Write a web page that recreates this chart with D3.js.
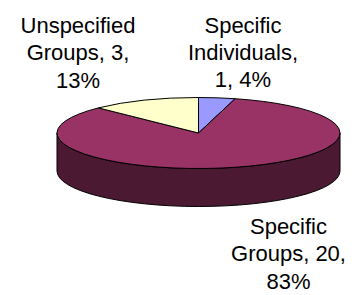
<!DOCTYPE html>
<html>
<head>
<meta charset="utf-8">
<script src="https://cdn.jsdelivr.net/npm/d3@7"></script>
<style>
  body { margin: 0; background: #fff; }
  svg { display: block; }
</style>
</head>
<body>
<svg id="chart" width="355" height="295"></svg>
<script>
// data
const categories = ["Specific Individuals", "Specific Groups", "Unspecified Groups"];
const counts = [1, 20, 3];
const colors = ["#9999FF", "#993366", "#FFFFCC"];

// label lines as they are wrapped in the picture
const labelLines = [
  ["Specific", "Individuals,", "1, 4%"],
  ["Specific", "Groups, 20,", "83%"],
  ["Unspecified", "Groups, 3,", "13%"]
];

const dims = { w: 355, h: 295, cx: 198.5, cy: 133, rx: 141.5, ry: 35.5, depth: 38 };
// where each label block is centred (x) and its first baseline (y)
const labelPos = [[243, 32.5], [288.5, 234], [78, 33]];
const lineGap = 27.3;

const svg = d3.select("#chart");

const pie = d3.pie().sort(null).value(d => d)
  .startAngle(0).endAngle(2 * Math.PI);
const arcs = pie(counts);

// point on the flattened (top) ellipse, 0 = 12 o'clock, clockwise
function pt(a, dy = 0) {
  return [dims.cx + dims.rx * Math.sin(a), dims.cy - dims.ry * Math.cos(a) + dy];
}

function topPath(a0, a1) {
  const p0 = pt(a0), p1 = pt(a1);
  const large = (a1 - a0) > Math.PI ? 1 : 0;
  return `M${dims.cx},${dims.cy}L${p0}A${dims.rx},${dims.ry} 0 ${large} 1 ${p1}Z`;
}

function sidePath(a0, a1) {
  const p0 = pt(a0), p1 = pt(a1);
  const q0 = pt(a0, dims.depth), q1 = pt(a1, dims.depth);
  const large = (a1 - a0) > Math.PI ? 1 : 0;
  return `M${p0}A${dims.rx},${dims.ry} 0 ${large} 1 ${p1}L${q1}A${dims.rx},${dims.ry} 0 ${large} 0 ${q0}Z`;
}

// side walls: only the front half (90deg to 270deg) can be seen
const sides = [];
arcs.forEach((d, i) => {
  const a0 = Math.max(d.startAngle, Math.PI / 2);
  const a1 = Math.min(d.endAngle, 3 * Math.PI / 2);
  if (a1 > a0) sides.push({ a0, a1, i });
});

svg.append("g").selectAll("path")
  .data(sides)
  .join("path")
  .attr("d", d => sidePath(d.a0, d.a1))
  .attr("fill", d => d3.color(colors[d.i]).darker(2))
  .attr("stroke", "#000")
  .attr("stroke-width", 1)
  .attr("stroke-linejoin", "round");

svg.append("g").selectAll("path")
  .data(arcs)
  .join("path")
  .attr("d", d => topPath(d.startAngle, d.endAngle))
  .attr("fill", (d, i) => colors[i])
  .attr("stroke", "#000")
  .attr("stroke-width", 1)
  .attr("stroke-linejoin", "round");

const labels = svg.append("g")
  .attr("font-family", "'Liberation Sans', Arial, sans-serif")
  .attr("font-size", "22px")
  .attr("fill", "#000")
  .attr("text-anchor", "middle");

labelLines.forEach((lines, i) => {
  const t = labels.append("text")
    .attr("x", labelPos[i][0])
    .attr("y", labelPos[i][1]);
  lines.forEach((ln, j) => {
    t.append("tspan")
      .attr("x", labelPos[i][0])
      .attr("dy", j === 0 ? 0 : lineGap)
      .text(ln);
  });
});
</script>
</body>
</html>
